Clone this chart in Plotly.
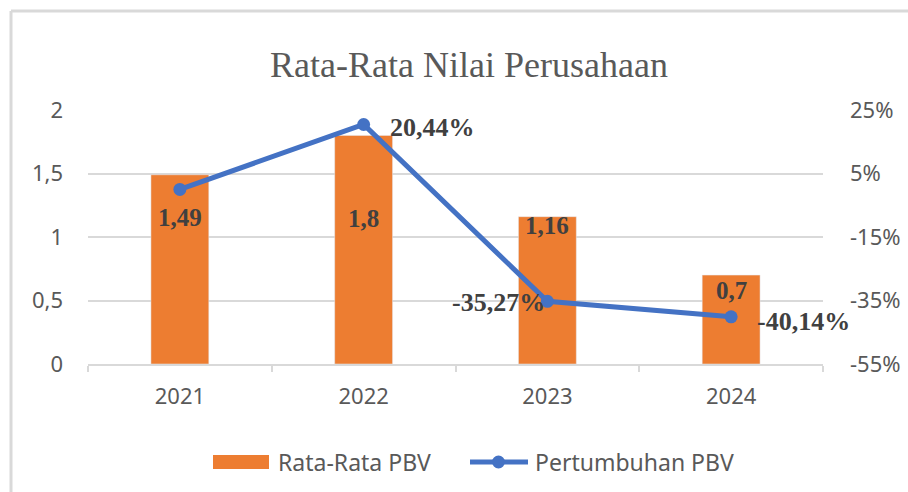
import plotly.graph_objects as go

years = ["2021", "2022", "2023", "2024"]
pbv_avg = [1.49, 1.8, 1.16, 0.7]
pbv_growth = [0.0, 20.44, -35.27, -40.14]
bar_labels = ["1,49", "1,8", "1,16", "0,7"]
growth_labels = ["", "20,44%", "-35,27%", "-40,14%"]
y2_ticks = [-55, -35, -15, 5, 25]
y2_ticktext = ["-55%", "-35%", "-15%", "5%", "25%"]
series_names = ["Rata-Rata PBV", "Pertumbuhan PBV"]

W, H = 908, 492
L, R, T, B = 88, 85, 110, 128
PW, PH = W - L - R, H - T - B

def px(x):
    return (x - L) / PW

def py(y):
    return (H - B - y) / PH

ORANGE = "#ED7D31"
BLUE = "#4472C4"
GRID = "#d9d9d9"
TXT = "#595959"
LBL = "#404040"
SANS = "Noto Sans"
SERIF = "Liberation Serif"

fig = go.Figure()
fig.add_trace(go.Bar(x=years, y=pbv_avg, name=series_names[0], marker_color=ORANGE,
                     width=0.315, yaxis="y", showlegend=False))
fig.add_trace(go.Scatter(x=years, y=pbv_growth, name=series_names[1], mode="lines+markers",
                         line=dict(color=BLUE, width=5), marker=dict(size=13, color=BLUE),
                         yaxis="y2", showlegend=False))

# bar labels (offsets in px from bar top); category index used for x
bar_shift = [-43, -83, -9, -15]
for i, (v, t, s) in enumerate(zip(pbv_avg, bar_labels, bar_shift)):
    fig.add_annotation(x=i, xref="x", y=v, yref="y", text=t, showarrow=False, yshift=s,
                       xanchor="center", yanchor="middle",
                       font=dict(family=SERIF, size=25, color=LBL, weight="bold"))

g_pos = [None, ("left", 24, -3), ("right", 0, -1), ("left", 24, -5)]
for i, (v, t, p) in enumerate(zip(pbv_growth, growth_labels, g_pos)):
    if p is None:
        continue
    fig.add_annotation(x=i, xref="x", y=v, yref="y2", text=t, showarrow=False, xanchor=p[0],
                       xshift=p[1], yshift=p[2], yanchor="middle",
                       font=dict(family=SERIF, size=26, color=LBL, weight="bold"))

# outer chart-area border (top and left visible)
fig.add_shape(type="line", xref="paper", yref="paper", x0=px(11), x1=px(W + 5), y0=py(11), y1=py(11),
              line=dict(color=GRID, width=3))
fig.add_shape(type="line", xref="paper", yref="paper", x0=px(11), x1=px(11), y0=py(11), y1=py(H + 5),
              line=dict(color=GRID, width=3))

# custom legend
LY = 462
fig.add_shape(type="rect", xref="paper", yref="paper", x0=px(213), x1=px(269),
              y0=py(LY - 7), y1=py(LY + 7), fillcolor=ORANGE, line=dict(width=0))
fig.add_annotation(xref="paper", yref="paper", x=px(276), y=py(LY), text=series_names[0],
                   showarrow=False, xanchor="left", yanchor="middle",
                   font=dict(family=SANS, size=23, color=TXT))
fig.add_shape(type="line", xref="paper", yref="paper", x0=px(470), x1=px(528),
              y0=py(LY), y1=py(LY), line=dict(color=BLUE, width=5))
fig.add_shape(type="circle", xref="paper", yref="paper", x0=px(492), x1=px(505),
              y0=py(LY - 6.5), y1=py(LY + 6.5), fillcolor=BLUE, line=dict(width=0))
fig.add_annotation(xref="paper", yref="paper", x=px(533), y=py(LY), text=series_names[1],
                   showarrow=False, xanchor="left", yanchor="middle",
                   font=dict(family=SANS, size=23, color=TXT))

fig.update_layout(
    width=W, height=H,
    margin=dict(l=L, r=R, t=T, b=B, autoexpand=False),
    paper_bgcolor="white", plot_bgcolor="white",
    separators=", ",
    showlegend=False,
    title=dict(text="Rata-Rata Nilai Perusahaan", x=469 / W, xanchor="center", xref="container",
               y=1 - 64 / H, yanchor="middle",
               font=dict(family=SERIF, size=36, color=TXT)),
    xaxis=dict(type="category", range=[-0.5, 3.5], showgrid=False, showline=True, linecolor=GRID,
               linewidth=1.5, ticks="outside", tickson="boundaries", ticklen=6, tickcolor=GRID,
               tickwidth=1.5, tickfont=dict(family=SANS, size=22, color=TXT),
               ticklabelstandoff=12, automargin=False),
    yaxis=dict(range=[0, 2], dtick=0.5, tick0=0, showgrid=True, gridcolor=GRID, gridwidth=1.5,
               zeroline=False, showline=False, tickformat=",.1~f", automargin=False,
               tickfont=dict(family=SANS, size=22, color=TXT), ticklabelstandoff=24),
    yaxis2=dict(range=[-55, 25], tickmode="array", tickvals=y2_ticks, ticktext=y2_ticktext,
                overlaying="y", side="right", automargin=False,
                showgrid=False, zeroline=False, showline=False,
                tickfont=dict(family=SANS, size=22, color=TXT), ticklabelstandoff=26),
)

fig.write_html("out.html")
